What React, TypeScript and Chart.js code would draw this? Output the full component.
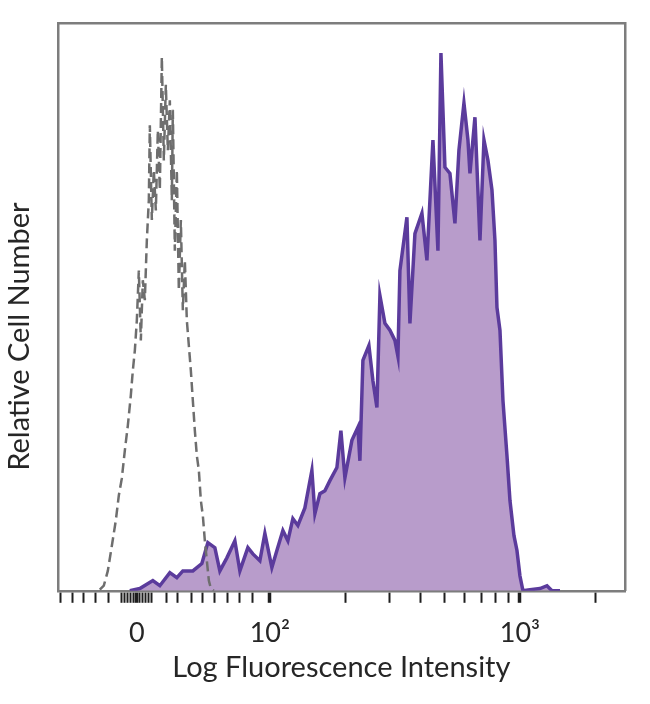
import { useEffect, useRef } from "react";
import { Chart, registerables } from "chart.js";

Chart.register(...registerables);

// x axis in display units: 2 = 10^2, 3 = 10^3 (biexponential-style axis)
const X_MIN = 1.152;
const X_MAX = 3.42;

const TICK_POS = [
  1.164, 1.212, 1.256, 1.304, 1.356,
  1.408, 1.42, 1.432, 1.444, 1.456, 1.468, 1.48, 1.492, 1.504, 1.516, 1.528,
  1.588, 1.632, 1.688, 1.732, 1.78, 1.832, 1.88, 1.932, 2.0,
  2.301, 2.477, 2.602, 2.699, 2.778, 2.845, 2.903, 2.954, 3.0, 3.301,
];
const TICK_LABELS = [
  "", "", "", "", "",
  "", "", "", "", "", "0", "", "", "", "", "",
  "", "", "", "", "", "", "", "", "10²",
  "", "", "", "", "", "", "", "", "10³", "",
];

// Isotype control (dashed grey)
const CTRL_X = [
  1.32, 1.336, 1.352, 1.368, 1.384, 1.396, 1.408, 1.42, 1.432, 1.444, 1.452, 1.46,
  1.468, 1.476, 1.484, 1.492, 1.5, 1.508, 1.516, 1.52, 1.528, 1.536, 1.544, 1.552,
  1.56, 1.568, 1.576, 1.584, 1.592, 1.6, 1.608, 1.612, 1.62, 1.628, 1.636, 1.644,
  1.652, 1.66, 1.668, 1.676, 1.684, 1.692, 1.7, 1.708, 1.716, 1.724, 1.732, 1.74,
  1.748, 1.756, 1.764, 1.776,
];
const CTRL_Y = [
  0.2, 0.9, 3.5, 7.9, 12.4, 16.8, 19.8, 24.7, 29.1, 34.4, 38.8, 42.3,
  47.6, 56.4, 44.1, 54.7, 51.2, 61.7, 68.8, 82.0, 65.3, 74.1, 67.0, 81.1,
  70.6, 94.0, 75.8, 89.1, 77.6, 86.4, 68.8, 84.7, 59.9, 74.1, 52.9, 65.3,
  49.4, 58.2, 47.6, 43.2, 38.8, 33.5, 28.2, 23.8, 21.2, 15.9, 13.2, 8.8,
  5.3, 1.8, 0.4, 0,
];

// Stained sample (purple filled)
const SAMPLE_X = [
  1.44, 1.48, 1.532, 1.56, 1.6, 1.628, 1.652, 1.692, 1.728, 1.752, 1.78, 1.8,
  1.828, 1.86, 1.88, 1.912, 1.932, 1.96, 1.98, 2.008, 2.028, 2.052, 2.072, 2.092,
  2.112, 2.14, 2.168, 2.18, 2.2, 2.22, 2.24, 2.268, 2.284, 2.3, 2.328, 2.352,
  2.36, 2.372, 2.396, 2.412, 2.428, 2.44, 2.46, 2.48, 2.5, 2.512, 2.52, 2.548,
  2.56, 2.58, 2.608, 2.628, 2.652, 2.672, 2.684, 2.7, 2.72, 2.74, 2.756, 2.776,
  2.792, 2.8, 2.82, 2.84, 2.856, 2.872, 2.888, 2.9, 2.908, 2.92, 2.932, 2.948,
  2.96, 2.976, 2.988, 3.0, 3.012, 3.04, 3.08, 3.108, 3.128, 3.16,
];
const SAMPLE_Y = [
  0, 0.4, 1.8, 0.9, 3.2, 2.3, 3.5, 3.5, 4.8, 8.5, 7.6, 3.5,
  5.8, 8.8, 3.5, 7.6, 6.5, 5.3, 10.1, 4.1, 7.1, 10.6, 8.8, 12.7,
  11.5, 14.6, 21.2, 13.6, 17.1, 17.6, 19.4, 21.7, 28.2, 19.9, 26.5, 28.8,
  22.9, 40.6, 43.2, 37.0, 32.3, 52.0, 47.1, 45.9, 44.1, 41.3, 56.4, 65.8,
  47.1, 62.9, 66.5, 58.2, 79.4, 59.9, 94.7, 74.6, 73.5, 64.7, 77.6, 85.9,
  79.4, 73.5, 83.4, 61.7, 79.4, 75.8, 70.6, 61.7, 49.9, 45.9, 33.5, 23.8,
  15.9, 9.7, 7.1, 2.6, 0, 0.2, 0.4, 0.9, 0, 0,
];

const FONT = "Lato, 'Open Sans', sans-serif";
const TEXT = "#262626";
const FRAME = "#7d7d7d";

export default function App() {
  const ref = useRef<HTMLCanvasElement>(null);

  useEffect(() => {
    if (!ref.current) return;
    const chart = new Chart(ref.current, {
      type: "line",
      data: {
        datasets: [
          {
            label: "Isotype control",
            data: CTRL_X.map((x, i) => ({ x, y: CTRL_Y[i] })),
            borderColor: "#6e6e6e",
            borderWidth: 2.5,
            borderDash: [10, 5],
            pointRadius: 0,
            fill: false,
            tension: 0,
            order: 1,
          },
          {
            label: "Stained",
            data: SAMPLE_X.map((x, i) => ({ x, y: SAMPLE_Y[i] })),
            borderColor: "#5b3b9c",
            backgroundColor: "#b89ccb",
            borderWidth: 3.5,
            pointRadius: 0,
            fill: "origin",
            tension: 0,
            order: 2,
          },
        ],
      },
      options: {
        animation: false,
        responsive: true,
        maintainAspectRatio: false,
        layout: { padding: { left: 2, right: 25, top: 23, bottom: 17 } },
        plugins: { legend: { display: false }, tooltip: { enabled: false } },
        scales: {
          x: {
            type: "linear",
            position: "bottom",
            min: X_MIN,
            max: X_MAX,
            afterBuildTicks: (scale: any) => {
              scale.ticks = TICK_POS.map((v) => ({ value: v }));
            },
            ticks: {
              autoSkip: false,
              maxRotation: 0,
              padding: 14,
              color: TEXT,
              font: { family: FONT, size: 27 },
              callback: (_v: any, i: number) => TICK_LABELS[i] ?? "",
            },
            grid: {
              display: true,
              drawOnChartArea: false,
              drawTicks: true,
              tickLength: 12,
              tickColor: "#1e1e1e",
              tickWidth: (ctx: any) => (TICK_LABELS[ctx.index] ? 3.5 : 2),
            },
            border: { display: true, color: FRAME, width: 2.5 },
            title: {
              display: true,
              text: "Log Fluorescence Intensity",
              color: TEXT,
              font: { family: FONT, size: 29 },
              padding: { top: -13, bottom: 2 },
            },
          },
          x2: {
            type: "linear",
            position: "top",
            min: X_MIN,
            max: X_MAX,
            ticks: { display: false },
            grid: { display: false, drawTicks: false },
            border: { display: true, color: FRAME, width: 2.5 },
          },
          y: {
            type: "linear",
            min: 0,
            max: 100,
            ticks: { display: false },
            grid: { display: false, drawTicks: false },
            border: { display: true, color: FRAME, width: 2.5 },
            title: {
              display: true,
              text: "Relative Cell Number        ",
              color: TEXT,
              font: { family: FONT, size: 29 },
              padding: { top: 0, bottom: 21 },
            },
          },
          y2: {
            type: "linear",
            position: "right",
            min: 0,
            max: 100,
            ticks: { display: false },
            grid: { display: false, drawTicks: false },
            border: { display: true, color: FRAME, width: 2.5 },
          },
        },
      },
    });
    return () => chart.destroy();
  }, []);

  return (
    <div style={{ position: "absolute", left: 0, top: 0, width: 650, height: 704 }}>
      <canvas ref={ref} />
    </div>
  );
}
